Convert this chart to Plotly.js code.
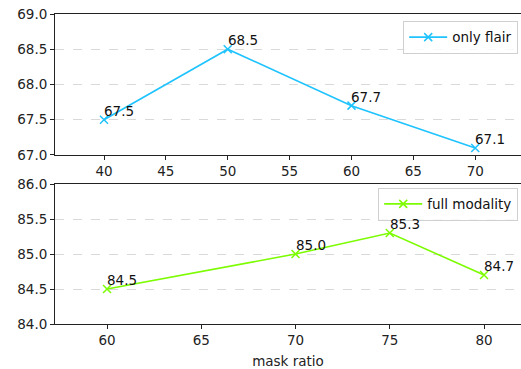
<!DOCTYPE html>
<html><head><meta charset="utf-8">
<script src="https://cdn.plot.ly/plotly-3.0.1.min.js"></script>
<style>body{margin:0;padding:0;background:#fff}#chart{width:521px;height:369px}</style>
</head><body><div id="chart"></div>
<script>
const xTop = [40, 50, 60, 70];
const yTop = [67.5, 68.5, 67.7, 67.1];
const nameTop = 'only flair';
const xBot = [60, 70, 75, 80];
const yBot = [84.5, 85.0, 85.3, 84.7];
const nameBot = 'full modality';
const xTitle = 'mask ratio';

const font = {family: 'DejaVu Sans', size: 13.5, color: '#222'};
function trace(x, y, name, color, xa, ya, leg) {
  return {
    x: x, y: y, name: name, xaxis: xa, yaxis: ya, legend: leg,
    mode: 'lines+markers', type: 'scatter',
    line: {color: color, width: 1.6},
    marker: {symbol: 'x-thin', size: 8, color: color, line: {color: color, width: 1.5}}
  };
}
function labels(x, y, xa, ya) {
  return x.map((v, i) => ({
    x: v, y: y[i], xref: xa, yref: ya, text: y[i].toFixed(1), showarrow: false,
    xanchor: 'left', yanchor: 'bottom', borderpad: 0, xshift: -1, yshift: 0,
    font: {family: 'DejaVu Sans', size: 13.5, color: '#111'}
  }));
}
const data = [
  trace(xTop, yTop, nameTop, '#1ec3ff', 'x', 'y', 'legend'),
  trace(xBot, yBot, nameBot, '#7cfc00', 'x2', 'y2', 'legend2')
];
const ax = {showline: true, linecolor: '#222', linewidth: 1, ticks: 'outside', ticklen: 4,
  tickcolor: '#222', showgrid: false, zeroline: false, tickfont: font};
const ay = Object.assign({}, ax, {showgrid: true, gridcolor: '#d9d9d9', griddash: 'dash', gridwidth: 1, tickformat: '.1f', dtick: 0.5});
const legStyle = {bgcolor: 'rgba(255,255,255,0.8)', bordercolor: '#d0d0d0', borderwidth: 1,
  itemwidth: 38,
  font: {family: 'DejaVu Sans', size: 13.5, color: '#111'}, xanchor: 'right', yanchor: 'top'};
const layout = {
  width: 521, height: 369,
  margin: {l: 55, r: 0, t: 14, b: 45},
  paper_bgcolor: '#fff', plot_bgcolor: '#fff',
  showlegend: true,
  annotations: labels(xTop, yTop, 'x', 'y').concat(labels(xBot, yBot, 'x2', 'y2')),
  xaxis: Object.assign({}, ax, {domain: [0, 1], range: [36.04, 73.7], dtick: 5, tick0: 40, anchor: 'y', mirror: true}),
  yaxis: Object.assign({}, ay, {domain: [0.5452, 1], range: [67, 69], anchor: 'x'}),
  xaxis2: Object.assign({}, ax, {domain: [0, 1], range: [57.24, 81.96], dtick: 5, tick0: 60, anchor: 'y2', mirror: true,
    title: {text: xTitle, font: font, standoff: 10}}),
  yaxis2: Object.assign({}, ay, {domain: [0, 0.4516], range: [84, 86], anchor: 'x2'}),
  legend: Object.assign({}, legStyle, {x: 0.994, y: 0.978}),
  legend2: Object.assign({}, legStyle, {x: 0.994, y: 0.44})
};
Plotly.newPlot('chart', data, layout, {displayModeBar: false, staticPlot: true});
</script></body></html>
